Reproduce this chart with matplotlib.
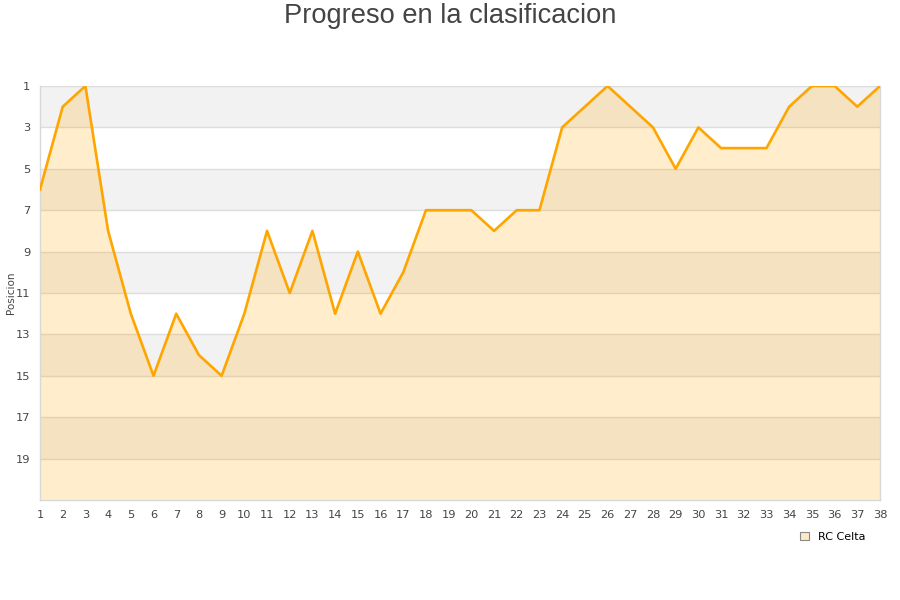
import matplotlib
matplotlib.use("Agg")
import matplotlib.pyplot as plt
from matplotlib.patches import Patch

jornadas = list(range(1, 39))
posiciones = [6, 2, 1, 8, 12, 15, 12, 14, 15, 12, 8, 11, 8, 12, 9, 12, 10, 7, 7, 7,
              8, 7, 7, 3, 2, 1, 2, 3, 5, 3, 4, 4, 4, 2, 1, 1, 2, 1]
yticks = list(range(1, 20, 2))
equipo = "RC Celta"
titulo = "Progreso en la clasificacion"

plt.rcParams['font.family'] = ['DejaVu Sans']
fig = plt.figure(figsize=(9, 6), dpi=100)
ax = fig.add_axes([40/900, 100/600, 840/900, 414/600])

# alternating bands
for i, lo in enumerate(range(1, 21, 2)):
    if i % 2 == 0:
        ax.axhspan(lo, lo + 2, color='#f2f2f2', zorder=0, lw=0)
for t in yticks:
    ax.axhline(t, color='#dddddd', lw=1, zorder=1)

ax.fill_between(jornadas, posiciones, 21, color='#ffa500', alpha=0.2, lw=0, zorder=2)
ax.plot(jornadas, posiciones, color='#ffa500', lw=1.9, zorder=3)

ax.set_xlim(1, 38)
ax.set_ylim(21, 1)
ax.set_yticks(yticks)
ax.set_xticks(jornadas)
ax.tick_params(length=0, labelsize=8.2, colors='#444444', pad=7)
ax.tick_params(axis='y', pad=7)
for s in ['top']:
    ax.spines[s].set_visible(False)
for s in ['left', 'bottom', 'right']:
    ax.spines[s].set_color('#d8d8d8')
    ax.spines[s].set_linewidth(1)
ax.set_ylabel('Posicion', fontsize=7.5, color='#444444')
ax.yaxis.set_label_coords(-24/840, (500-293)/414)

fig.text(0.5, 1 - 16/600, titulo, ha='center', va='center', fontsize=19.6,
         color='#444444', family='Liberation Sans')

handle = Patch(facecolor='#fde9c4', edgecolor='#888888', lw=0.8)
fig.legend([handle], [equipo], loc='center', bbox_to_anchor=(0.925, 0.105),
           frameon=False, fontsize=8, handlelength=0.8, handleheight=0.8,
           handletextpad=0.8)

fig.savefig('out.png', dpi=100)
